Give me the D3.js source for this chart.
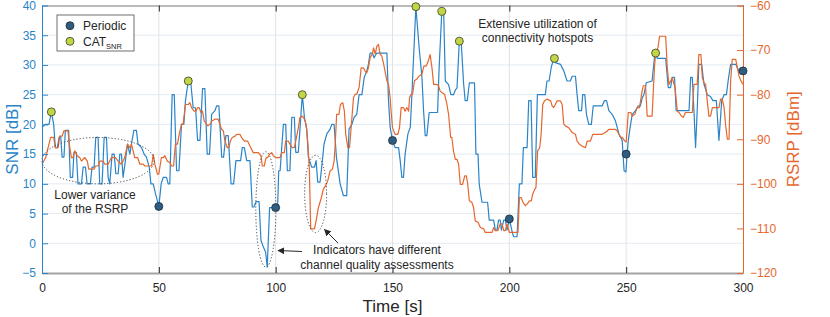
<!DOCTYPE html>
<html>
<head>
<meta charset="utf-8">
<script src="https://cdn.jsdelivr.net/npm/d3@7"></script>
<style>
  body { margin: 0; background: #fff; }
  svg { display: block; }
  text { font-family: "Liberation Sans", Arial, Helvetica, sans-serif; }
</style>
</head>
<body>
<div class="canvas"></div>
<script>
// Data: [time s, value]
const snrSeries = [
  [0,19.5],[1.4,20],[3,20],[4,22.1],[5,20],[5.7,16.1],[6.6,16.1],[7.3,17.8],[8,18],[8.6,14.5],[9.4,14.5],[10,19],[11.4,19],[12.1,11.1],[13.1,11.1],[13.7,15.3],[14.7,15.3],[15.4,10],[16.9,10],[17.6,12.8],[18.6,12.8],[19.3,10],[20.7,10],[21.4,12.8],[22.3,12.8],[23,17.8],[24,17.8],[24.7,10],[25.7,10],[26.6,17.8],[27.6,17.8],[28.3,11.1],[29,10],[30,15],[30.9,15],[31.6,11.7],[32.6,11.7],[33.3,15],[34,15],[34.7,11.1],[35.7,13.9],[36.6,16.7],[37.6,15],[38.3,16.7],[39.3,19],[40.4,19],[41.1,16.7],[42.6,16.1],[43.7,15],[44.7,14.5],[45.9,12.8],[46.6,10],[47.6,10],[48.6,8.3],[50,6.2],
  [51,10],[51.9,11.1],[53.3,11.1],[54,10],[54.7,10],[55.7,25],[56.6,25],[57.6,12.2],[58.6,12.2],[59.7,20],[60.7,20],[61.4,24],[62.6,27.3],[63.6,27.3],[64.7,22.8],[65.7,22.8],[66.6,17.3],[67.6,17.3],[68.7,26],[69.7,26],[70.7,15],[71.7,15],[72.6,21.7],[74,22.3],[74.7,23.1],[75.7,23.1],[76.9,14.5],[77.7,14.5],[78.7,18.1],[79.7,18.1],[80.9,10],[82,10],[83,13.9],[85,13.9],[85.7,16.1],[86.6,16.1],[87.6,13.9],[89,13.9],[90,6.1],[90.7,6.1],[91.6,7],[92.9,7],[93.7,0.5],[94.7,-0.6],[95.7,-1.5],[96.4,-4],[97.4,6],[100,6],
  [100.9,6.8],[101.3,12.2],[101.9,12.2],[103.3,20],[104.3,20],[105,12.2],[106.1,12.2],[106.9,21.2],[108,21.2],[108.6,15.3],[109.7,15.3],[110.4,19.2],[111.4,25],[112.3,21.2],[113.3,19.2],[114,14.5],[115.4,12.8],[116.6,12.8],[117.3,13.9],[118,10.3],[119,10.3],[119.7,12.8],[120.7,16.7],[121.9,18.4],[123.3,19.2],[124,20],[125,20],[126,14.5],[127.6,10],[129,8],[130.4,8],[131.4,19.2],[132.6,20],[133.6,21.2],[134.7,21.7],[135.7,25],[136.9,25],[137.9,27.9],[139,29],[139.7,30.1],[140.4,32],[141.4,32],[142.1,31.2],[143.3,32],[147.6,32],[148.3,24],[149,19.5],[150,17.3],
  [151.1,16.1],[152.6,16.1],[153.3,13.9],[154,11.1],[154.7,11.1],[155.4,15],[156.6,18.4],[157.6,19.5],[158.3,25],[160,39.8],[161.4,32.9],[162.6,27.9],[163.3,22.3],[164,18.1],[164.7,18.1],[165.7,22],[169.3,22],[169.9,29],[171.1,39],[171.9,39],[172.6,27.3],[174,26.7],[175,25],[176.1,25],[176.9,25.8],[177.6,26.1],[178.6,34],[179.4,34],[180.4,27],[181.1,24],[182,24],[182.9,27],[185.1,27],[185.7,15],[186.6,15],[187.1,10],[188.3,6.9],[190.7,6.9],[191.4,3.9],[193.3,3.9],[194,2.2],[194.7,2.2],[195.4,3.9],[196.1,3.9],[196.6,2.2],[197.6,3.9],[198.3,3.9],[199,2.2],[200,4.1],
  [201.4,1.6],[201.9,1.1],[203.3,1.1],[204.3,10],[205.4,10],[206,16.1],[207.6,16.1],[208.3,24],[209.3,24],[210,11.1],[211.1,11.1],[212,25],[215.4,25],[216.1,27.3],[217,27.3],[218,29.7],[219,31.1],[219.7,30.4],[221.9,30.1],[223.3,29],[224.7,27.3],[226.1,27.3],[226.9,28.1],[228.3,28.1],[229,25],[229.7,22.3],[230.9,22.3],[231.4,25],[232.3,25],[233,21.7],[234,20],[235.1,20],[235.9,23.1],[239.7,23.1],[240.7,24],[241.6,24],[242.6,22.3],[244,21.7],[245.4,20.6],[246.9,18.4],[248.3,17.3],[249.1,12.2],[249.9,12],[250.4,15],
  [250.9,17.3],[251.7,19.5],[252.6,21.7],[254,22.3],[255.1,23.1],[256.1,23.1],[256.9,24.5],[257.6,25],[258.6,27],[261.1,27.3],[262.1,31.2],[262.6,32],[263.3,31.1],[266.9,31.1],[268,26.2],[269,26.2],[269.7,27.9],[270.7,27.9],[271.4,22.3],[276.9,22.3],[277.6,27.9],[278.3,27.9],[279,22.3],[279.7,16.1],[280.4,22.3],[281.1,30.1],[282.3,30.1],[283.3,26.8],[284.7,25],[286.1,24.7],[287.1,24],[288.6,24],[289.7,17.3],[290.9,24],[291.9,25],[292.9,25],[293.7,27.5],[294.7,30.1],[296.9,30.1],[297.6,29.5],[298.3,29],[300,29]
]

const rsrpSeries = [
  [0,-95.6],[1.6,-94.1],[2.6,-91.9],[3.7,-89.6],[5,-89.6],[5.7,-91.9],[6.9,-91.9],[7.6,-89.3],[8.6,-89.3],[9.4,-88.1],[11.1,-88.1],[11.9,-91.9],[12.6,-94.1],[13.3,-94.1],[14,-92.6],[15.1,-93.7],[16.1,-94.1],[16.9,-94.9],[18.3,-94.1],[19.4,-94.9],[20,-96.7],[22.3,-96.7],[22.9,-96],[24,-96],[24.7,-94.9],[26.1,-94.9],[26.9,-95.6],[28.3,-95.6],[29.7,-94.1],[31.4,-94.1],[32.6,-94.9],[33.7,-95.6],[34.7,-94.9],[35.4,-94.1],[36.6,-91.1],[37.6,-91.9],[38.3,-91.1],[39.7,-94.1],[40.9,-94.1],[41.9,-95.6],[43.3,-95.6],[44,-96],[46.9,-96],[47.6,-93.4],[48.3,-95.6],[49.4,-97.8],[50,-97.8],
  [51.1,-94.1],[51.9,-94.1],[52.6,-93.7],[53.6,-94.9],[54.7,-95.2],[55.4,-96],[56.3,-96],[57.1,-91.1],[58,-91.1],[58.7,-88.9],[59.7,-86.6],[60.4,-86.6],[61.4,-82.2],[62.6,-82.2],[63.3,-81.8],[64,-82.9],[65.1,-83.7],[65.9,-83.7],[66.6,-82.9],[67.3,-82.9],[68,-84],[68.7,-83.7],[69.4,-85.9],[70.4,-86.6],[71,-87],[72,-86.6],[72.7,-85.9],[74,-85.5],[75.4,-85.5],[76.1,-86.6],[76.9,-87.8],[77.6,-88.1],[78.3,-90.4],[79.3,-91.9],[80,-91.9],[80.6,-90.4],[81.4,-89.6],[82.6,-89.3],[83.3,-88.9],[84.7,-88.9],[85.4,-89.6],[86.6,-90.4],[88,-90.4],[89,-91.5],[90.4,-93],[92.6,-93],[93.7,-93.7],[94.3,-96],[95.1,-96],[95.9,-94.1],[96.6,-94.1],[97.3,-93.4],[98.3,-93],[99,-93.7],[100,-94.1],
  [101.9,-94.1],[102.6,-93],[103.7,-93],[104.3,-90.4],[105.4,-90.4],[106.1,-91.1],[107.1,-91.9],[108,-91.9],[108.6,-90.4],[109.7,-87.4],[110.4,-85.1],[111.4,-84.8],[112.3,-85.5],[113,-86.6],[113.7,-90.4],[114.4,-96.3],[115,-110.1],[116.6,-110.1],[117.3,-108.3],[118.3,-105.3],[119.4,-103.4],[120.4,-101.2],[121.4,-100.4],[122.3,-99.3],[123.3,-97.1],[124.3,-96.7],[125,-94.9],[125.4,-91.9],[126.1,-84.4],[127.1,-84.4],[127.7,-82.2],[128.7,-81.8],[129.4,-83.7],[130,-88.9],[130.9,-91.9],[131.6,-91.9],[132.3,-87.4],[133.3,-80.7],[134,-79.9],[134.7,-79.9],[135.7,-78.4],[136.6,-74],[137.6,-74],[138.3,-74.7],[139,-75.1],[139.7,-74],[140.4,-71.7],[141.4,-70.9],[141.9,-69.5],[142.6,-70.9],[143.3,-69.1],[144,-68.7],[144.7,-70.9],[145.4,-71.3],[146.1,-72.8],[147.6,-76.9],[148.3,-77.7],[149,-80.7],[149.4,-83.7],[150,-87.4],
  [151.1,-88.9],[152.3,-88.9],[153,-87.4],[153.7,-82.9],[154.7,-82.9],[155.4,-83.7],[156.1,-82.9],[156.9,-83.7],[157.3,-80.7],[158,-79.9],[158.6,-79.9],[159.4,-76.9],[160.4,-76.5],[161.4,-75.8],[162.6,-75.4],[163.4,-73.6],[164.3,-73.6],[165.1,-72.8],[166.1,-71],[166.9,-74],[167.6,-77.7],[169,-77.7],[169.7,-78],[170.4,-79.2],[171.1,-79.5],[172.3,-79.9],[173.3,-82.2],[174,-84.4],[174.9,-89.6],[175.4,-89.6],[176.1,-92.6],[176.9,-94.5],[177.6,-94.5],[178.3,-95.6],[179,-100.1],[180,-100.1],[180.9,-98.2],[181.6,-98.2],[182.1,-99.7],[182.9,-103.8],[184,-104.2],[184.7,-105.3],[185.4,-108.3],[186.6,-108.6],[187.6,-109.8],[189,-110.1],[189.7,-110.9],[192.6,-110.9],[193.3,-109.8],[194,-110.5],[195.1,-110.5],[196.1,-109],[196.9,-109],[197.6,-110.5],[198.3,-110.5],[199,-109],[200,-110.9],
  [203.7,-110.9],[204.3,-103.1],[205.1,-103.1],[205.9,-104.2],[206.9,-104.9],[207.7,-104.5],[208.6,-103.8],[209.4,-103.8],[210,-102.3],[210.9,-101.2],[211.4,-100.8],[212.1,-92.6],[213,-91.9],[213.6,-88.9],[214.3,-82.2],[215,-81.4],[216.1,-81],[217.7,-81.4],[218.3,-82.5],[219,-82.9],[219.7,-82.2],[220.4,-81.4],[221.9,-81.4],[222.6,-82.2],[223.3,-86.6],[224,-87],[225.4,-87.4],[226.9,-88.5],[228.3,-88.9],[229,-90.4],[230,-91.1],[231.1,-91.5],[232.6,-91.9],[233.3,-90.4],[234.7,-90.4],[235.7,-88.9],[239.7,-88.9],[241.1,-88.5],[242.6,-87.8],[245.4,-87.8],[246.1,-88.1],[246.9,-88.9],[247.6,-89.6],[248.3,-89.6],[249.4,-90.4],[250,-90.6],
  [250.9,-84],[252,-84],[252.6,-84.8],[253.7,-84.4],[254.7,-82.9],[255.7,-82.9],[256.6,-79.9],[257.3,-78],[258.3,-78],[259,-84.8],[261.1,-84.8],[262.1,-74],[262.6,-70.6],[263.6,-69.5],[264.3,-66.9],[266.9,-66.9],[267.6,-74],[268.3,-77.7],[269.7,-76.2],[270.9,-78.4],[271.9,-83.7],[272.6,-84],[273.7,-84.8],[274.4,-85.1],[275.4,-84],[278.3,-84],[279,-77.7],[280.4,-77.7],[281.1,-71],[282,-71],[282.6,-76.2],[283.3,-77.3],[284,-77.7],[284.7,-81.4],[285.4,-84.8],[286.1,-84.8],[286.9,-82.9],[289.7,-82.9],[290.4,-81],[291.1,-81],[291.9,-82.9],[292.6,-87],[293.3,-90],[294,-90],[294.7,-77],[295.4,-72.1],[296.9,-72.1],[297.6,-74],[298.3,-75.8],[299.1,-76.9],[300,-77.7]
]

// Report events
const periodicT = [50, 100, 150, 200, 250, 300]
const periodicV = [6.2, 6, 17.3, 4.1, 15, 29]
const catT = [4, 62.6, 111.4, 160, 171.1, 178.6, 219.3, 262.6]
const catV = [22.1, 27.3, 25, 39.8, 39, 34, 31.1, 32]

// Tick values
const timeTicks = [0, 50, 100, 150, 200, 250, 300]
const snrTicks = [-5, 0, 5, 10, 15, 20, 25, 30, 35, 40]
const rsrpTicks = [-120, -110, -100, -90, -80, -70, -60]

// Colours
const blue = '#2a84c8'
const orange = '#e5672d'
const dark = '#262626'
const font = '"Liberation Sans", Arial, Helvetica, sans-serif'

// Setting constants
const wWidth = 830
const wHeight = 317
const margin = {top: 5.5, right: 87, bottom: 44, left: 42}
const graphWidth = wWidth - margin.left - margin.right
const graphHeight = wHeight - margin.top - margin.bottom

const svg = d3.select('.canvas')
    .append('svg')
    .attr('width', wWidth)
    .attr('height', wHeight)

const graph = svg.append('g')
    .attr('transform', `translate(${margin.left}, ${margin.top})`)

// Scales
const xScale = d3.scaleLinear().domain([0, 300]).range([0, graphWidth])
const ySnr = d3.scaleLinear().domain([-5, 40]).range([graphHeight, 0])
const yRsrp = d3.scaleLinear().domain([-120, -60]).range([graphHeight, 0])

// Grid
graph.append('g').selectAll('line')
    .data(snrTicks.slice(1, -1))
    .enter().append('line')
    .attr('x1', 0).attr('x2', graphWidth)
    .attr('y1', d => ySnr(d)).attr('y2', d => ySnr(d))
    .attr('stroke', '#e3ebf3').attr('stroke-width', 1)
graph.append('g').selectAll('line')
    .data(timeTicks.slice(1, -1))
    .enter().append('line')
    .attr('x1', d => xScale(d)).attr('x2', d => xScale(d))
    .attr('y1', 0).attr('y2', graphHeight)
    .attr('stroke', '#e2e2e2').attr('stroke-width', 1)

// Lines
const snrLine = d3.line().x(d => xScale(d[0])).y(d => ySnr(d[1]))
const rsrpLine = d3.line().x(d => xScale(d[0])).y(d => yRsrp(d[1]))

graph.append('path')
    .datum(snrSeries)
    .attr('d', snrLine)
    .attr('fill', 'none')
    .attr('stroke', blue)
    .attr('stroke-width', 1.2)
    .attr('stroke-linejoin', 'round')

graph.append('path')
    .datum(rsrpSeries)
    .attr('d', rsrpLine)
    .attr('fill', 'none')
    .attr('stroke', orange)
    .attr('stroke-width', 1.2)
    .attr('stroke-linejoin', 'round')

// Dotted ellipses (centre and radii in time / SNR units)
const ellipses = [
  {t: 24, s: 13.9, rt: 24, rs: 3.9},
  {t: 95.8, s: 5.7, rt: 4.3, rs: 9.7},
  {t: 117.1, s: 8.3, rt: 4.7, rs: 6.5}
]
graph.append('g').selectAll('ellipse')
    .data(ellipses)
    .enter().append('ellipse')
    .attr('cx', d => xScale(d.t))
    .attr('cy', d => ySnr(d.s))
    .attr('rx', d => xScale(d.rt))
    .attr('ry', d => graphHeight - ySnr(-5 + d.rs))
    .attr('fill', 'none')
    .attr('stroke', '#444')
    .attr('stroke-width', 1)
    .attr('stroke-dasharray', '1.2,2')

// Axes
function styleAxis(g, color) {
    g.attr('font-size', 12).attr('font-family', font)
    g.select('.domain').attr('stroke', color)
    g.selectAll('.tick line').attr('stroke', color)
    g.selectAll('.tick text').attr('fill', color)
}

const xAxisGroup = graph.append('g')
    .attr('transform', `translate(0, ${graphHeight})`)
    .call(d3.axisBottom(xScale).tickValues(timeTicks).tickSize(-6).tickSizeOuter(0).tickPadding(10))
styleAxis(xAxisGroup, dark)
xAxisGroup.select('.domain').attr('stroke', '#a3a3a3').attr('stroke-width', 2)

const topAxisGroup = graph.append('g')
    .call(d3.axisTop(xScale).tickValues(timeTicks).tickSize(-6).tickSizeOuter(0).tickFormat(''))
styleAxis(topAxisGroup, dark)
topAxisGroup.select('.domain').attr('stroke', '#a3a3a3').attr('stroke-width', 1.5)

const yAxisGroup = graph.append('g')
    .call(d3.axisLeft(ySnr).tickValues(snrTicks).tickSize(-6).tickSizeOuter(0).tickPadding(6))
styleAxis(yAxisGroup, blue)

const yRightGroup = graph.append('g')
    .attr('transform', `translate(${graphWidth}, 0)`)
    .call(d3.axisRight(yRsrp).tickValues(rsrpTicks).tickSize(-6).tickSizeOuter(0).tickPadding(7))
styleAxis(yRightGroup, orange)

// Axis labels
svg.append('text')
    .attr('transform', `translate(${margin.left + graphWidth / 2}, 312)`)
    .attr('text-anchor', 'middle')
    .attr('font-size', 17)
    .attr('fill', dark)
    .text('Time [s]')
svg.append('text')
    .attr('transform', `translate(18, ${margin.top + graphHeight / 2}) rotate(-90)`)
    .attr('text-anchor', 'middle')
    .attr('font-size', 17)
    .attr('fill', blue)
    .text('SNR [dB]')
svg.append('text')
    .attr('transform', `translate(799, ${margin.top + graphHeight / 2}) rotate(-90)`)
    .attr('text-anchor', 'middle')
    .attr('font-size', 17)
    .attr('fill', orange)
    .text('RSRP [dBm]')

// Markers
const markerGroup = graph.append('g')
markerGroup.selectAll('circle.periodic')
    .data(periodicT.map((t, i) => [t, periodicV[i]]))
    .enter().append('circle')
    .attr('class', 'periodic')
    .attr('cx', d => xScale(d[0]))
    .attr('cy', d => ySnr(d[1]))
    .attr('r', 4)
    .attr('fill', '#2f5d82')
    .attr('stroke', '#1e2a33')
    .attr('stroke-width', 0.8)
markerGroup.selectAll('circle.cat')
    .data(catT.map((t, i) => [t, catV[i]]))
    .enter().append('circle')
    .attr('class', 'cat')
    .attr('cx', d => xScale(d[0]))
    .attr('cy', d => ySnr(d[1]))
    .attr('r', 4)
    .attr('fill', '#c2d645')
    .attr('stroke', '#3a3a2a')
    .attr('stroke-width', 0.8)

// Legend
const legend = svg.append('g').attr('transform', 'translate(57, 15)')
legend.append('rect')
    .attr('width', 77).attr('height', 36)
    .attr('fill', '#fff').attr('stroke', '#333').attr('stroke-width', 0.7)
legend.append('circle').attr('cx', 13).attr('cy', 10.7).attr('r', 4)
    .attr('fill', '#2f5d82').attr('stroke', '#1e2a33').attr('stroke-width', 0.8)
legend.append('circle').attr('cx', 13).attr('cy', 26.3).attr('r', 4)
    .attr('fill', '#c2d645').attr('stroke', '#3a3a2a').attr('stroke-width', 0.8)
legend.append('text').attr('x', 26).attr('y', 15).attr('font-size', 12).attr('fill', dark).text('Periodic')
const catLabel = legend.append('text').attr('x', 26).attr('y', 31).attr('font-size', 12).attr('fill', dark)
catLabel.append('tspan').text('CAT')
catLabel.append('tspan').attr('dy', 3).attr('font-size', 7.5).text('SNR')

// Annotations
const notes = [
  {x: 95, y: 199, text: 'Lower variance'},
  {x: 95, y: 212.5, text: 'of the RSRP'},
  {x: 377, y: 254, text: 'Indicators have different'},
  {x: 377, y: 268.5, text: 'channel quality assessments'},
  {x: 537.5, y: 27.5, text: 'Extensive utilization of'},
  {x: 537.5, y: 42, text: 'connectivity hotspots'}
]
svg.append('g').selectAll('text')
    .data(notes)
    .enter().append('text')
    .attr('x', d => d.x).attr('y', d => d.y)
    .attr('text-anchor', 'middle')
    .attr('font-size', 12)
    .attr('fill', dark)
    .text(d => d.text)

svg.append('defs').append('marker')
    .attr('id', 'arrow')
    .attr('viewBox', '0 0 10 10')
    .attr('refX', 9).attr('refY', 5)
    .attr('markerWidth', 7).attr('markerHeight', 7)
    .attr('markerUnits', 'userSpaceOnUse')
    .attr('orient', 'auto')
    .append('path')
    .attr('d', 'M0,0 L10,5 L0,10 z')
    .attr('fill', dark)

const arrows = [[302, 251.5, 278, 250.5], [338, 243, 324.5, 229.5]]
svg.append('g').selectAll('line')
    .data(arrows)
    .enter().append('line')
    .attr('x1', d => d[0]).attr('y1', d => d[1])
    .attr('x2', d => d[2]).attr('y2', d => d[3])
    .attr('stroke', dark).attr('stroke-width', 1)
    .attr('marker-end', 'url(#arrow)')
</script>
</body>
</html>
